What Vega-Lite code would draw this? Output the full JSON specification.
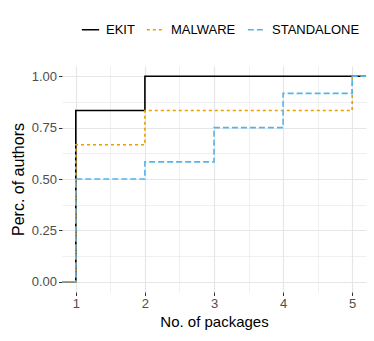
{
  "$schema": "https://vega.github.io/schema/vega-lite/v6.json",
  "width": 304,
  "height": 226,
  "autosize": "none",
  "padding": {"left": 62, "top": 66, "right": 8, "bottom": 49},
  "background": "white",
  "config": {
    "font": "Liberation Sans",
    "view": {"stroke": null},
    "axis": {
      "domain": false,
      "gridColor": "#e6e6e6",
      "tickColor": "#333333",
      "tickSize": 3.5,
      "labelColor": "#4d4d4d",
      "labelFontSize": 13,
      "titleFontSize": 15,
      "titleFontWeight": "normal",
      "titleColor": "#000000",
      "labelPadding": 2
    }
  },
  "data": {
    "values": [
      {"type": "EKIT", "x": 0.8, "y": 0},
      {"type": "EKIT", "x": 1, "y": 0.8333},
      {"type": "EKIT", "x": 2, "y": 1},
      {"type": "EKIT", "x": 5.2, "y": 1},
      {"type": "MALWARE", "x": 0.8, "y": 0},
      {"type": "MALWARE", "x": 1, "y": 0.6667},
      {"type": "MALWARE", "x": 2, "y": 0.8333},
      {"type": "MALWARE", "x": 5, "y": 1},
      {"type": "MALWARE", "x": 5.2, "y": 1},
      {"type": "STANDALONE", "x": 0.8, "y": 0},
      {"type": "STANDALONE", "x": 1, "y": 0.5},
      {"type": "STANDALONE", "x": 2, "y": 0.5833},
      {"type": "STANDALONE", "x": 3, "y": 0.75},
      {"type": "STANDALONE", "x": 4, "y": 0.9167},
      {"type": "STANDALONE", "x": 5, "y": 1},
      {"type": "STANDALONE", "x": 5.2, "y": 1}
    ]
  },
  "mark": {"type": "line", "interpolate": "step-after", "strokeWidth": 1.6, "clip": true},
  "encoding": {
    "x": {
      "field": "x",
      "type": "quantitative",
      "scale": {"domain": [0.8, 5.2], "nice": false, "zero": false},
      "axis": {
        "title": "No. of packages",
        "values": [1, 1.5, 2, 2.5, 3, 3.5, 4, 4.5, 5],
        "labelExpr": "datum.value % 1 == 0 ? format(datum.value, 'd') : ''",
        "gridWidth": {"condition": {"test": "datum.value % 1 != 0", "value": 0.6}, "value": 1.2},
        "tickOpacity": {"condition": {"test": "datum.value % 1 != 0", "value": 0}, "value": 1},
        "titlePadding": 4
      }
    },
    "y": {
      "field": "y",
      "type": "quantitative",
      "scale": {"domain": [-0.05, 1.05], "nice": false, "zero": false},
      "axis": {
        "title": "Perc. of authors",
        "titleFontSize": 16,
        "values": [0, 0.125, 0.25, 0.375, 0.5, 0.625, 0.75, 0.875, 1],
        "labelExpr": "(datum.value * 4) % 1 == 0 ? format(datum.value, '.2f') : ''",
        "gridWidth": {"condition": {"test": "(datum.value * 4) % 1 != 0", "value": 0.6}, "value": 1.2},
        "tickOpacity": {"condition": {"test": "(datum.value * 4) % 1 != 0", "value": 0}, "value": 1},
        "titlePadding": 5
      }
    },
    "color": {
      "field": "type",
      "type": "nominal",
      "scale": {"domain": ["EKIT", "MALWARE", "STANDALONE"], "range": ["#000000", "#E69F00", "#56B4E9"]},
      "legend": {
        "title": null,
        "orient": "none",
        "direction": "horizontal",
        "legendX": 19,
        "legendY": -46,
        "labelFontSize": 13,
        "labelColor": "#000000",
        "symbolType": "stroke",
        "symbolSize": 300,
        "symbolStrokeWidth": 1.6,
        "labelOffset": 6,
        "columnPadding": 8
      }
    },
    "strokeDash": {
      "field": "type",
      "type": "nominal",
      "scale": {"domain": ["EKIT", "MALWARE", "STANDALONE"], "range": [[1, 0], [3, 3], [6, 3]]},
      "legend": {
        "title": null,
        "orient": "none",
        "direction": "horizontal",
        "legendX": 19,
        "legendY": -46,
        "labelFontSize": 13,
        "labelColor": "#000000",
        "symbolType": "stroke",
        "symbolSize": 300,
        "symbolStrokeWidth": 1.6,
        "labelOffset": 6,
        "columnPadding": 8
      }
    }
  }
}
